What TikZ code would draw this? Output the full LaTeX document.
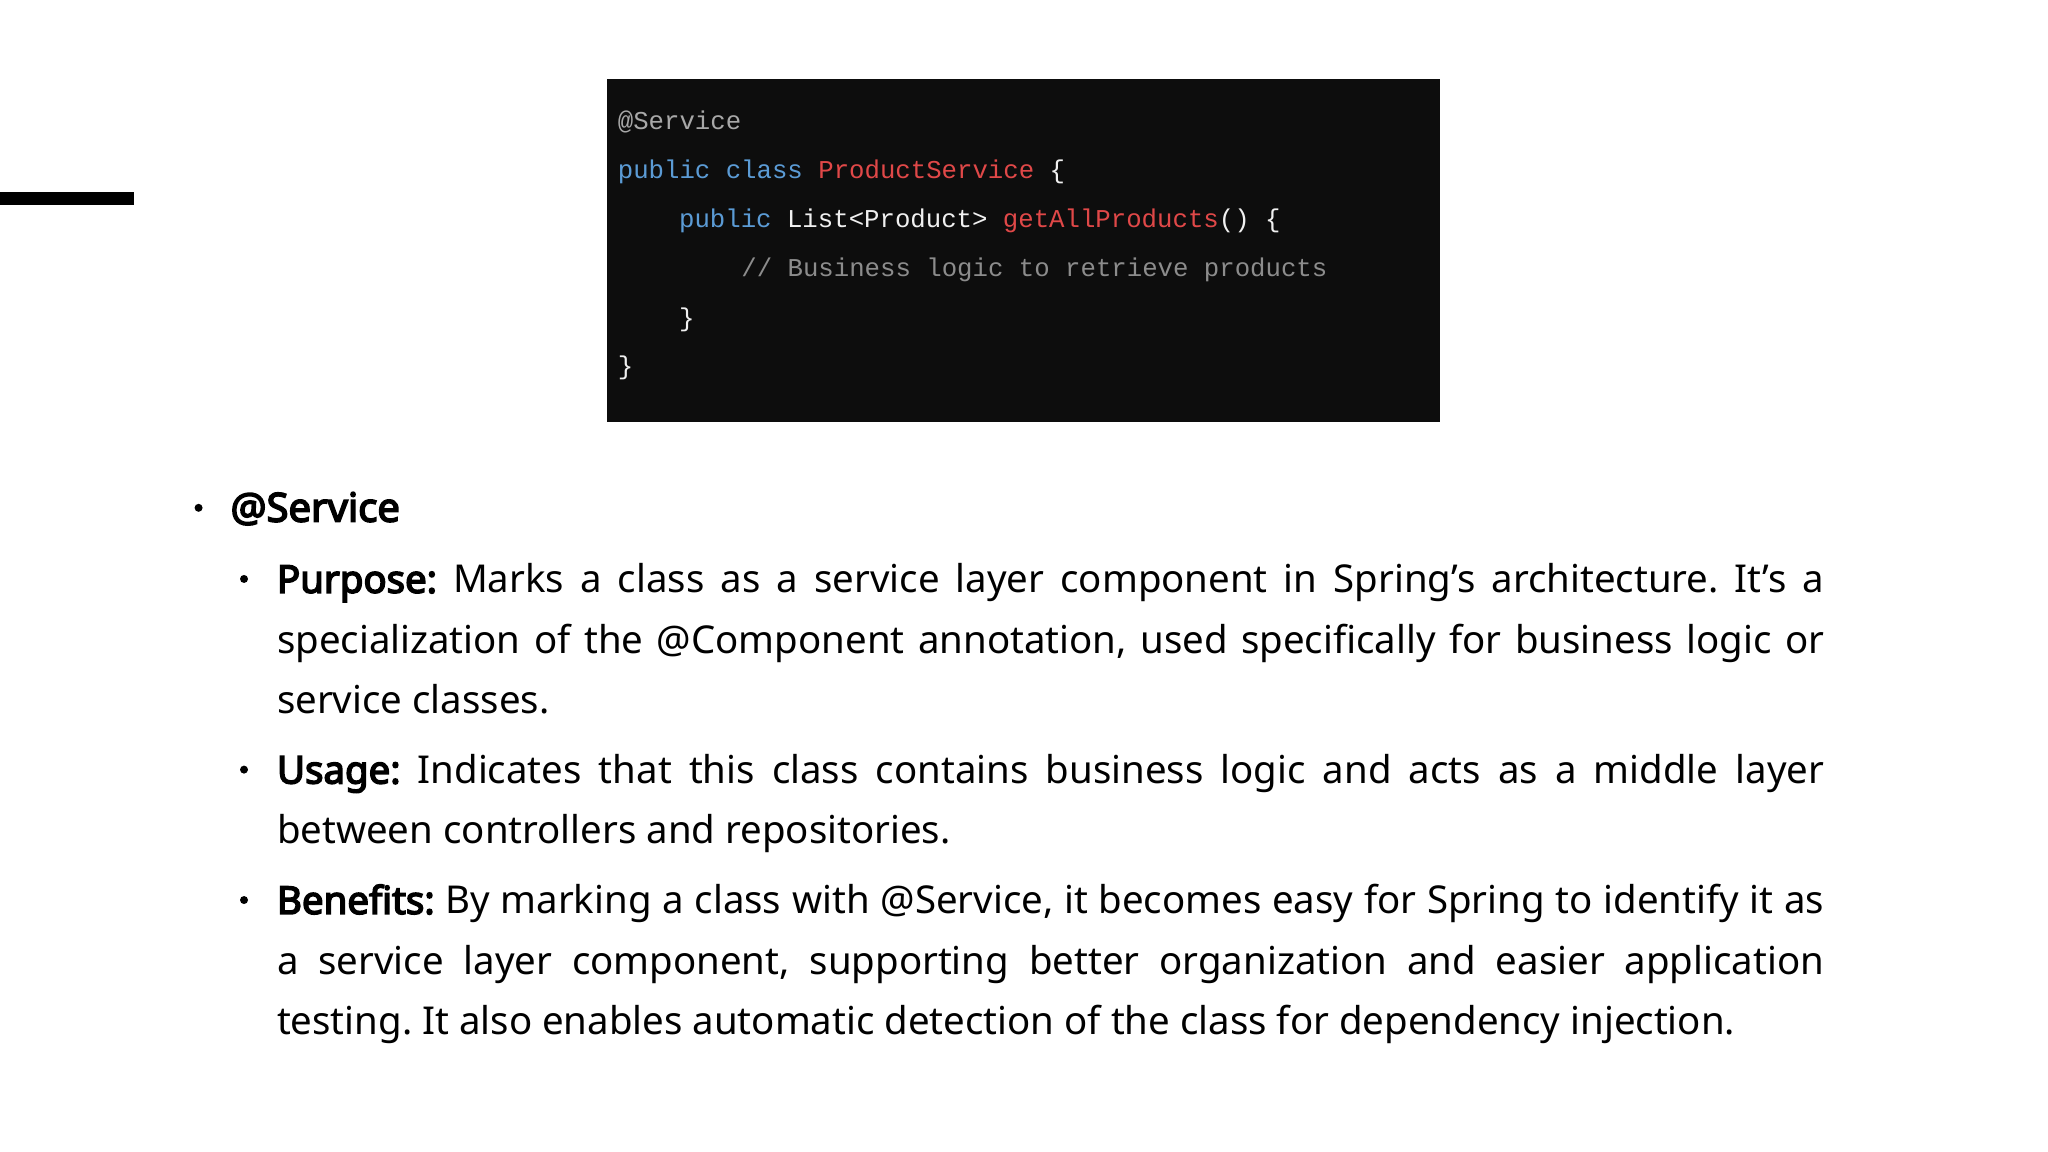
\documentclass[tikz,border=0pt]{standalone}
\usepackage{fontspec}
\setmainfont{Noto Sans}[BoldFont={Noto Sans},BoldFeatures={FakeBold=4}]
\newfontfamily\codefont{Liberation Mono}
\definecolor{kw}{HTML}{5B9BD5}
\definecolor{fn}{HTML}{E04848}
\definecolor{cm}{HTML}{8C8C8C}
\definecolor{an}{HTML}{A8A8A8}
\definecolor{pl}{HTML}{F0F0F0}
\definecolor{bg}{HTML}{0D0D0D}
\tikzset{
  code/.style={anchor=base west,inner sep=0,font=\codefont\fontsize{12.85}{15}\selectfont,text=pl},
  para/.style={anchor=north west,inner sep=0,text width=773.6pt,align=justify,font=\fontsize{19.2}{30.1}\selectfont\frenchspacing},
  dot/.style={circle,fill=black,inner sep=0,minimum size=4pt}
}
\begin{document}
\begin{tikzpicture}[x=0.494pt,y=-0.494pt]
\useasboundingbox (0,0) rectangle (2073,1166);
\fill[black] (0,194) rectangle (136,207);
\node[fill=bg,inner sep=0,minimum width=416.5pt,minimum height=171.4pt,anchor=north west] (box) at (614,80) {};
\node[code,text=an] (c1) at (625,131) {@Service};
\node[code] (c2) at (625,181) {\textcolor{kw}{public class} \textcolor{fn}{ProductService} \{};
\node[code] (c3) at (687,230) {\textcolor{kw}{public} List<Product> \textcolor{fn}{getAllProducts}() \{};
\node[code,text=cm] (c4) at (750,280) {// Business logic to retrieve products};
\node[code] (c5) at (687,330) {\}};
\node[code] (c6) at (625,379) {\}};
\node[dot] (b0) at (201,514) {};
\node[anchor=base west,inner sep=0,font=\fontsize{20}{30}\selectfont\bfseries] (h) at (233,528) {@Service};
\node[dot] (b1) at (247,586) {};
\node[para] (p1) at (280,557) {\strut\textbf{Purpose:} Marks a class as a service layer component in Spring’s architecture. It’s a\linebreak specialization of the @Component annotation, used specifically for business logic or\linebreak service classes.};
\node[dot] (b2) at (247,779) {};
\node[para] (p2) at (280,750) {\strut\textbf{Usage:} Indicates that this class contains business logic and acts as a middle layer\linebreak between controllers and repositories.};
\node[dot] (b3) at (247,911) {};
\node[para] (p3) at (280,882) {\strut\textbf{Benefits:} By marking a class with @Service, it becomes easy for Spring to identify it as\linebreak a service layer component, supporting better organization and easier application\linebreak testing. It also enables automatic detection of the class for dependency injection.};
\end{tikzpicture}
\end{document}
